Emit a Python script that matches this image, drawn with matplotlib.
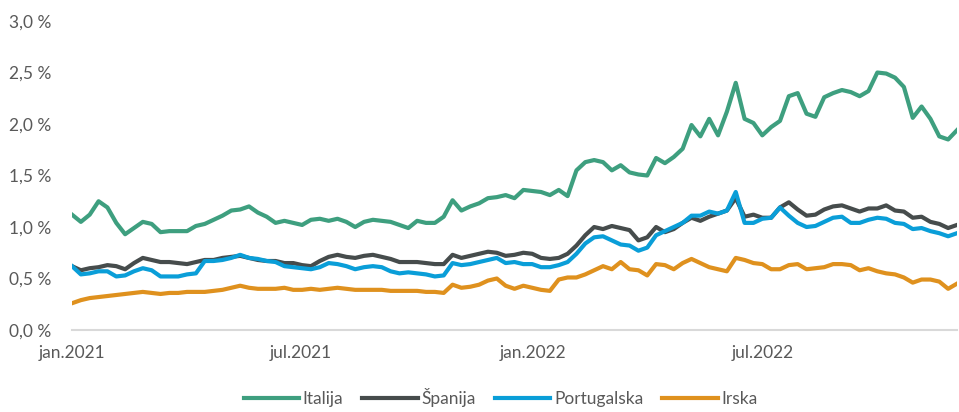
import pandas as pd
import matplotlib
matplotlib.use("Agg")
import matplotlib.pyplot as plt
from matplotlib.ticker import FuncFormatter

# weekly readings, first point 1 Jan 2021
start = "2021-01-01"

italija = [1.12, 1.05, 1.12, 1.25, 1.19, 1.04, 0.93, 0.99, 1.05, 1.03,
           0.95, 0.96, 0.96, 0.96, 1.01, 1.03, 1.07, 1.11, 1.16, 1.17,
           1.20, 1.14, 1.10, 1.04, 1.06, 1.04, 1.02, 1.07, 1.08, 1.06,
           1.08, 1.05, 1.00, 1.05, 1.07, 1.06, 1.05, 1.02, 0.99, 1.06,
           1.04, 1.04, 1.10, 1.26, 1.16, 1.20, 1.23, 1.28, 1.29, 1.31,
           1.28, 1.36, 1.35, 1.34, 1.31, 1.36, 1.30, 1.55, 1.63, 1.65,
           1.63, 1.55, 1.60, 1.53, 1.51, 1.50, 1.67, 1.62, 1.68, 1.76,
           1.99, 1.88, 2.05, 1.89, 2.12, 2.40, 2.05, 2.01, 1.89, 1.97,
           2.03, 2.27, 2.30, 2.10, 2.07, 2.26, 2.30, 2.33, 2.31, 2.27,
           2.32, 2.50, 2.49, 2.45, 2.36, 2.06, 2.17, 2.05, 1.88, 1.85,
           1.94]

spanija = [0.62, 0.58, 0.60, 0.61, 0.63, 0.62, 0.59, 0.65, 0.70, 0.68,
           0.66, 0.66, 0.65, 0.64, 0.66, 0.68, 0.68, 0.70, 0.71, 0.72,
           0.70, 0.68, 0.67, 0.67, 0.65, 0.65, 0.63, 0.62, 0.67, 0.71,
           0.73, 0.71, 0.70, 0.72, 0.73, 0.71, 0.69, 0.66, 0.66, 0.66,
           0.65, 0.64, 0.64, 0.73, 0.70, 0.72, 0.74, 0.76, 0.75, 0.72,
           0.73, 0.75, 0.74, 0.70, 0.69, 0.70, 0.74, 0.82, 0.92, 1.00,
           0.98, 1.01, 0.99, 0.97, 0.87, 0.90, 1.00, 0.95, 0.98, 1.04,
           1.09, 1.06, 1.10, 1.13, 1.16, 1.28, 1.10, 1.12, 1.09, 1.09,
           1.19, 1.24, 1.17, 1.11, 1.12, 1.17, 1.20, 1.21, 1.18, 1.15,
           1.18, 1.18, 1.21, 1.16, 1.15, 1.09, 1.10, 1.05, 1.03, 0.99,
           1.02]

portugalska = [0.62, 0.54, 0.55, 0.57, 0.57, 0.52, 0.53, 0.57, 0.60, 0.58,
               0.52, 0.52, 0.52, 0.54, 0.55, 0.67, 0.67, 0.68, 0.70, 0.73,
               0.70, 0.69, 0.67, 0.66, 0.62, 0.61, 0.60, 0.59, 0.61, 0.65,
               0.64, 0.62, 0.59, 0.61, 0.62, 0.61, 0.57, 0.55, 0.56, 0.55,
               0.54, 0.52, 0.53, 0.65, 0.63, 0.64, 0.66, 0.68, 0.70, 0.65,
               0.66, 0.64, 0.64, 0.61, 0.61, 0.63, 0.66, 0.74, 0.84, 0.90,
               0.91, 0.87, 0.83, 0.82, 0.77, 0.80, 0.92, 0.96, 1.00, 1.04,
               1.11, 1.11, 1.15, 1.13, 1.16, 1.34, 1.04, 1.04, 1.08, 1.09,
               1.19, 1.11, 1.04, 1.00, 1.01, 1.05, 1.09, 1.10, 1.04, 1.04,
               1.07, 1.09, 1.08, 1.04, 1.03, 0.98, 0.99, 0.96, 0.94, 0.91,
               0.94]

irska = [0.26, 0.29, 0.31, 0.32, 0.33, 0.34, 0.35, 0.36, 0.37, 0.36,
         0.35, 0.36, 0.36, 0.37, 0.37, 0.37, 0.38, 0.39, 0.41, 0.43,
         0.41, 0.40, 0.40, 0.40, 0.41, 0.39, 0.39, 0.40, 0.39, 0.40,
         0.41, 0.40, 0.39, 0.39, 0.39, 0.39, 0.38, 0.38, 0.38, 0.38,
         0.37, 0.37, 0.36, 0.44, 0.41, 0.42, 0.44, 0.48, 0.50, 0.43,
         0.40, 0.43, 0.41, 0.39, 0.38, 0.49, 0.51, 0.51, 0.54, 0.58,
         0.62, 0.59, 0.66, 0.59, 0.58, 0.53, 0.64, 0.63, 0.59, 0.65,
         0.69, 0.65, 0.61, 0.59, 0.57, 0.70, 0.68, 0.65, 0.64, 0.59,
         0.59, 0.63, 0.64, 0.59, 0.60, 0.61, 0.64, 0.64, 0.63, 0.58,
         0.60, 0.57, 0.55, 0.54, 0.51, 0.46, 0.49, 0.49, 0.47, 0.40,
         0.45]

names = ["Italija", "Španija", "Portugalska", "Irska"]
colors = ["#3e9f7f", "#464c4c", "#0a9ed8", "#df911e"]
tick_dates = ["2021-01-01", "2021-07-01", "2022-01-01", "2022-07-01"]
tick_labels = ["jan.2021", "jul.2021", "jan.2022", "jul.2022"]

dates = pd.date_range(start, periods=len(italija), freq="7D")

plt.rcParams["font.family"] = ["Lato", "DejaVu Sans"]
txt = "#595959"

fig = plt.figure(figsize=(9.59, 4.12), dpi=100)
ax = fig.add_axes([0.0751, 0.199, 0.9228, 0.750])

for name, vals, c in zip(names, [italija, spanija, portugalska, irska], colors):
    ax.plot(dates, vals, color=c, lw=3, label=name, solid_joinstyle="round")

ax.set_ylim(0, 3.0)
ax.set_yticks([0, 0.5, 1.0, 1.5, 2.0, 2.5, 3.0])
ax.yaxis.set_major_formatter(FuncFormatter(lambda v, p: f"{v:.1f} %".replace(".", ",")))
ax.set_xlim(dates[0], dates[-1])
ax.set_xticks(pd.to_datetime(tick_dates))
ax.set_xticklabels(tick_labels)

for s in ["top", "right", "left"]:
    ax.spines[s].set_visible(False)
ax.spines["bottom"].set_color("#d9d9d9")
ax.spines["bottom"].set_linewidth(1.5)
ax.tick_params(axis="y", length=0, pad=15, labelsize=12.5, labelcolor=txt)
ax.tick_params(axis="x", length=0, pad=11, labelsize=12.5, labelcolor=txt)

fig.legend(loc="center", bbox_to_anchor=(0.522, 0.035), ncol=4, frameon=False,
           fontsize=12.5, labelcolor=txt, handlelength=3.2, handletextpad=0.2,
           columnspacing=1.1)

fig.savefig("out.png", dpi=100)
